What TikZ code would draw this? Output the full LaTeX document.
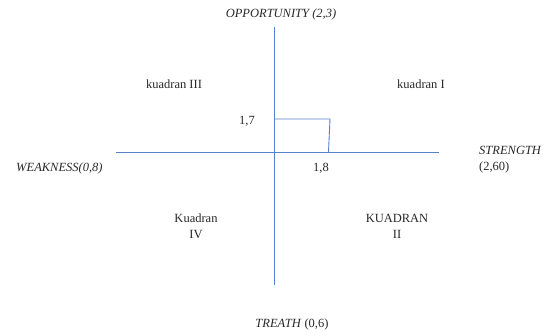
\documentclass[tikz,border=0pt]{standalone}
\usepackage{fontspec}
\setmainfont{Liberation Serif}
\usepackage{tikz}
\usetikzlibrary{positioning}
\definecolor{axisblue}{RGB}{88,126,204}
\definecolor{txtgray}{RGB}{40,40,40}
\newcommand{\labsize}{\fontsize{12.5}{16}\selectfont}
\tikzset{
  axis/.style={axisblue, line width=0.9pt},
  lab/.style={text=txtgray, inner sep=0pt, align=center, font=\labsize},
  side/.style={lab, font=\labsize\itshape}
}

\begin{document}
\begin{tikzpicture}[x=1pt, y=-1pt]
  \useasboundingbox (0,0) rectangle (547,336);
  % sumbu
  \coordinate (top) at (274,27);   \coordinate (bot) at (274,285);
  \coordinate (lft) at (116,152);  \coordinate (rgt) at (439,152);
  \draw[axis] (top) -- (bot);
  \draw[axis] (lft) -- (rgt);
  % titik (1,8 ; 1,7)
  \coordinate (py) at (274,119); \coordinate (pc) at (330,119); \coordinate (px) at (328.5,152);
  \draw[axis] (py) -- (pc) -- (px);
  \node[lab] (ny) at (247,121) {1,7};
  \node[lab] (nx) at (321,168) {1,8};
  % faktor
  \node[side] (opp) at (281,14) {OPPORTUNITY (2,3)};
  \node[side] (thr) at (292,324) {TREATH \textup{(0,6)}};
  \node[side, anchor=west] (wk) at (16,168) {WEAKNESS(0,8)};
  \node[lab, anchor=north west, align=left] (st) at (479,146) {\textit{STRENGTH}\\(2,60)};
  % kuadran
  \foreach \nm/\x/\y/\txt in {q3/174/84/kuadran III, q1/421/84/kuadran I,
                              q4/196/226/Kuadran\\IV, q2/397/226/KUADRAN\\II}{
    \node[lab] (\nm) at (\x,\y) {\txt};
  }
\end{tikzpicture}
\end{document}
